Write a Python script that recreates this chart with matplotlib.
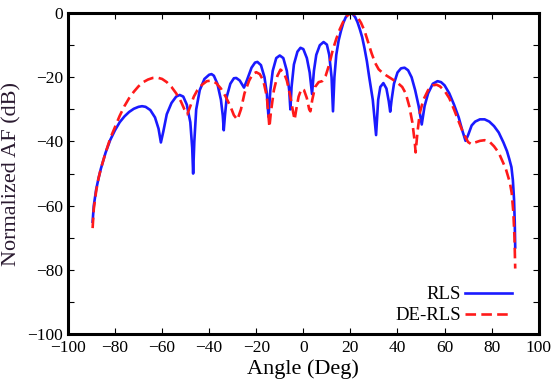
import matplotlib
matplotlib.use('Agg')
import matplotlib.pyplot as plt
from matplotlib.ticker import MultipleLocator

plt.rcParams['font.family'] = ['Liberation Serif', 'DejaVu Serif']

# RLS pattern (angle in deg, normalized AF in dB)
rls_angle = [-89.5, -89, -88, -87, -86, -85, -84, -82, -80, -78, -76, -74, -72, -70,
             -68.5, -67, -65, -63, -61.5, -60.5, -59.5, -58, -56, -54, -52.5, -51,
             -49.5, -48, -47.2, -46.8, -46.3, -45.5, -44, -42, -40, -39, -38, -36.5,
             -35, -34.2, -33.8, -33.3, -32.5, -31, -29.5, -28.5, -27, -25.2, -24, -22,
             -20.5, -19.5, -18, -16.5, -15.5, -14.8, -14, -13, -11.5, -10, -8.5, -7,
             -6, -5.5, -5, -4, -2.5, -1.2, 0, 1.5, 2.7, 3.7, 4.5, 5.5, 7, 8.6, 10, 11,
             12, 12.6, 13.2, 14, 15, 16, 17, 18, 19, 20, 21, 22, 23, 24, 25, 26, 27,
             28, 29.5, 30.9, 31.8, 32.7, 34, 35.3, 36.3, 36.9, 37.5, 38.5, 40, 41.5,
             43, 44.5, 46, 47.5, 49, 50.3, 51.5, 53, 55, 57, 58.5, 60, 62, 64, 66,
             67.5, 68.9, 70, 71.5, 73, 75, 77, 79, 81, 83, 85, 86.5, 87.5, 88.4, 89,
             89.5, 89.8, 90]
rls_db = [-65, -60, -55, -51.5, -48.5, -46, -43.5, -39.5, -36.5, -34, -32.2, -30.8,
          -29.8, -29.2, -29.0, -29.2, -30.2, -32.5, -36, -40.3, -37, -31.5, -28, -26,
          -25.5, -26, -28.5, -34, -42, -50, -40, -30, -24, -20.5, -19.2, -19, -19.5,
          -22, -27, -32, -36.5, -32, -26, -22, -20.3, -20.2, -21, -23.2, -21, -17,
          -15.4, -15.2, -16.2, -20, -25, -32.3, -24, -18, -14, -13.2, -14, -18, -24,
          -30, -23, -16, -12, -10.8, -11.2, -14, -18.5, -25.2, -18, -13, -10, -9,
          -9.8, -13, -20, -30.6, -20, -13, -8.5, -5.5, -3, -1.3, -0.4, 0, -0.3, -1.2,
          -2.8, -5, -7.5, -11, -15, -20, -27, -38, -27, -23, -21.8, -23.5, -27.5,
          -30.7, -27, -22, -18.5, -17.2, -17, -17.8, -20, -24, -29, -34.7, -29, -25,
          -22, -21.2, -21.5, -22.5, -25, -28.5, -32.5, -36.5, -39.8, -38, -35, -33.8,
          -33.1, -33.1, -33.8, -35.2, -37.2, -40.3, -43, -45.5, -48, -52, -58, -65,
          -73]

# DE-RLS pattern
de_angle = [-89.5, -89, -88, -87, -86, -85, -84, -82, -80, -78, -76, -74, -72, -70,
            -68, -66, -64, -62, -60, -58, -56, -54, -52, -50.5, -49.3, -48, -46.5,
            -45, -43, -41, -39, -37, -35, -33, -31, -29.5, -28, -26.5, -25, -23,
            -21.5, -20, -18.5, -17, -15.5, -14.8, -14.4, -13.8, -12.5, -11, -9.7,
            -8.3, -7, -5.5, -4.3, -3.7, -3, -2, -0.8, 0.3, 1.5, 2.5, 3, 3.8, 5, 6.5,
            8, 9.5, 11, 12.5, 14, 15.5, 17, 18.5, 20, 21.5, 23, 24.5, 26, 27.5, 29,
            30.5, 32, 33.5, 35, 36.5, 38, 40, 42, 43.5, 45, 46.3, 47.3, 47.7, 48.5,
            49.5, 51, 53, 55, 56.6, 58, 60, 62, 64, 66, 68, 70, 71.5, 73, 75, 77, 79,
            81, 83, 84.5, 86, 87.7, 88.5, 89.2, 89.7, 90]
de_db = [-67, -61, -55.5, -51.5, -48.5, -46, -43.5, -39, -35.5, -32, -29, -26.5,
         -24.5, -22.8, -21.5, -20.7, -20.2, -20.1, -20.5, -21.5, -23, -25, -27.5, -30,
         -31.5, -29, -26, -24, -22.3, -21.2, -21, -21.8, -23.5, -26, -29, -31.8, -33.2,
         -30, -25, -21, -19, -18.4, -19, -21, -26, -32, -35.5, -31, -24, -19.5, -17.6,
         -18.5, -21, -26, -31, -33.2, -30, -26, -23.6, -24, -26.5, -30, -30.6, -27,
         -23, -21.5, -21.2, -19.5, -16, -11.5, -8, -5, -2.6, -0.9, 0, -0.3, -1.2, -3,
         -5.5, -9, -12.5, -15.5, -17.5, -18.5, -19.3, -20, -20.7, -21.7, -23, -25, -29,
         -34, -40, -43.4, -37, -31, -27, -24, -22.5, -22.3, -22.8, -24.2, -26.5, -30,
         -33.8, -37.5, -40.2, -40.9, -40.3, -39.8, -39.6, -40, -41.5, -43.5, -46,
         -48.5, -52.7, -56, -62, -70, -79.6]

fig = plt.figure(figsize=(5.52, 3.87), dpi=100)
ax = fig.add_axes([0.123, 0.137, 0.853, 0.829])

ax.plot(rls_angle, rls_db, color='#1a1aff', lw=1.9, label='RLS')
ax.plot(de_angle, de_db, color='#ff1a1a', lw=1.9, dashes=(4, 2), label='DE-RLS')

ax.set_xlim(-100, 100)
ax.set_ylim(-100, 0)
ax.xaxis.set_major_locator(MultipleLocator(20))
ax.yaxis.set_major_locator(MultipleLocator(20))
ax.yaxis.set_minor_locator(MultipleLocator(10))
ax.tick_params(which='both', direction='in', top=True, right=True, length=4,
               width=0.8, labelsize=12.5)
ax.tick_params(axis='x', pad=4.5)
for s in ax.spines.values():
    s.set_linewidth(2.2)

ax.set_xlabel('Angle (Deg)', fontsize=16, labelpad=2)
ax.set_ylabel('Normalized AF (dB)', fontsize=16, color='#2a1a30')

ax.legend(loc='lower right', bbox_to_anchor=(0.943, 0.03), frameon=False,
          markerfirst=False, fontsize=13.5, handlelength=2.5, handletextpad=0.2,
          labelspacing=0.2, borderaxespad=0, borderpad=0)

fig.savefig('out.png', dpi=100)
